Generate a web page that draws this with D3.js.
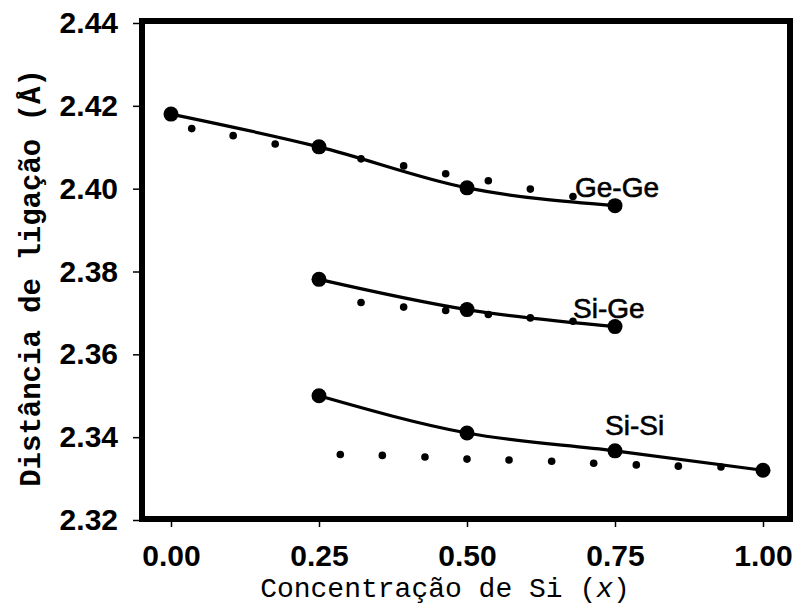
<head>
    <meta name="viewport" content="width=device-width, initial-scale=1">
    <style>
        body { margin: 0; background: #ffffff; }
        .tick text { font-family: "Liberation Sans", Arial, sans-serif; font-weight: bold; font-size: 30px; fill: #000; }
        .mono { font-family: "Liberation Mono", "DejaVu Sans Mono", monospace; fill: #000; }
        .lab { font-family: "Liberation Sans", Arial, sans-serif; font-size: 28px; fill: #000; stroke: #000; stroke-width: 0.6px; }
    </style>
    <script src="https://cdn.jsdelivr.net/npm/d3@7"></script>
</head>
<body>
<div id="chart"></div>
<script>

    // calculated values (big dots, joined by the line)
    var xCalc = [0, 0.25, 0.5, 0.75, 1.0];
    var geGe = [2.418, 2.4101, 2.4002, 2.3959, null];
    var siGe = [null, 2.3781, 2.3708, 2.3667, null];
    var siSi = [null, 2.3500, 2.3410, 2.3367, 2.3320];

    // small dots (second model)
    var geGeSmallX = [0.035, 0.105, 0.176, 0.321, 0.393, 0.464, 0.536, 0.607, 0.679];
    var geGeSmallY = [2.4145, 2.4128, 2.4108, 2.4072, 2.4055, 2.4036, 2.4019, 2.3999, 2.3981];
    var siGeSmallX = [0.321, 0.393, 0.464, 0.536, 0.607, 0.679];
    var siGeSmallY = [2.3725, 2.3714, 2.3706, 2.3696, 2.3688, 2.3680];
    var siSiSmallX = [0.286, 0.357, 0.429, 0.5, 0.571, 0.643, 0.714, 0.786, 0.857, 0.929];
    var siSiSmallY = [2.3358, 2.3356, 2.3352, 2.3347, 2.3345, 2.3342, 2.3337, 2.3333, 2.3330, 2.3328];

    var xTicks = [0, 0.25, 0.5, 0.75, 1.0];
    var yTicks = [2.32, 2.34, 2.36, 2.38, 2.40, 2.42, 2.44];

    var W = 797, H = 606;

    var svg = d3.select("#chart").append("svg")
        .attr("width", W)
        .attr("height", H);

    var x = d3.scaleLinear().domain([0, 1]).range([171, 763]);
    var y = d3.scaleLinear().domain([2.32, 2.44]).range([520, 23]);

    // frame
    svg.append("rect")
        .attr("x", 142).attr("y", 21)
        .attr("width", 648).attr("height", 498)
        .attr("fill", "none")
        .attr("stroke", "#000")
        .attr("stroke-width", 6);

    var yx = svg.append("g")
        .attr("transform", "translate(139,0)")
        .call(d3.axisLeft(y).tickValues(yTicks).tickSize(6).tickPadding(15).tickFormat(d3.format(".2f")));

    var xx = svg.append("g")
        .attr("transform", "translate(0,522)")
        .call(d3.axisBottom(x).tickValues(xTicks).tickSize(5).tickPadding(18).tickFormat(d3.format(".2f")));

    svg.selectAll(".domain").remove();
    svg.selectAll(".tick line").attr("stroke", "#000").attr("stroke-width", 1.5);

    var line = d3.line()
        .defined(d => d[1] != null)
        .curve(d3.curveMonotoneX)
        .x(d => x(d[0]))
        .y(d => y(d[1]));

    var plot = svg.append("g");

    function addSmall(xs, ys) {
        plot.selectAll(null)
            .data(xs.map((v, i) => [v, ys[i]]))
            .enter().append("circle")
            .attr("cx", d => x(d[0]))
            .attr("cy", d => y(d[1]))
            .attr("r", 3.8)
            .attr("fill", "#000");
    }

    function addSeries(vals) {
        var pts = xCalc.map((v, i) => [v, vals[i]]).filter(d => d[1] != null);
        plot.append("path")
            .datum(pts)
            .attr("d", line)
            .attr("fill", "none")
            .attr("stroke", "#000")
            .attr("stroke-width", 3.2)
            .attr("stroke-linejoin", "round");
        plot.selectAll(null)
            .data(pts)
            .enter().append("circle")
            .attr("cx", d => x(d[0]))
            .attr("cy", d => y(d[1]))
            .attr("r", 7.5)
            .attr("fill", "#000");
    }

    addSmall(geGeSmallX, geGeSmallY);
    addSmall(siGeSmallX, siGeSmallY);
    addSmall(siSiSmallX, siSiSmallY);

    addSeries(geGe);
    addSeries(siGe);
    addSeries(siSi);

    // series labels
    svg.append("text").attr("class", "lab").attr("x", 575).attr("y", 197).text("Ge-Ge");
    svg.append("text").attr("class", "lab").attr("x", 573).attr("y", 318).text("Si-Ge");
    svg.append("text").attr("class", "lab").attr("x", 605).attr("y", 435).text("Si-Si");

    // axis titles
    var xt = svg.append("text")
        .attr("class", "mono")
        .attr("x", 445).attr("y", 597)
        .attr("text-anchor", "middle")
        .attr("font-size", "28px");
    xt.append("tspan").text("Concentração de Si (");
    xt.append("tspan").attr("font-style", "italic").text("x");
    xt.append("tspan").text(")");

    svg.append("text")
        .attr("class", "mono")
        .attr("transform", "translate(40,278) rotate(-90)")
        .attr("text-anchor", "middle")
        .attr("font-size", "29px")
        .attr("font-weight", "bold")
        .text("Distância de ligação (Å)");

</script>
</body>
